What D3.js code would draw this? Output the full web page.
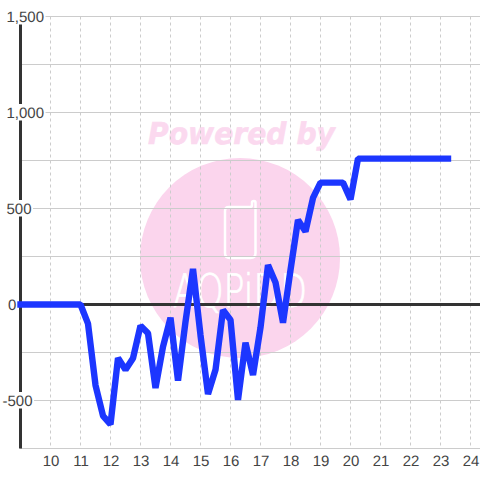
<!DOCTYPE html>
<html><head><meta charset="utf-8">
<script src="https://cdn.jsdelivr.net/npm/d3@7"></script>
<style>html,body{margin:0;padding:0;background:#fff}svg{display:block}text{text-rendering:geometricPrecision}</style>
</head><body><div id="c"></div>
<script>
const hours = d3.range(9, 23.5, 0.25);
const values = [0,0,0,0,0,0,0,0,0,
  -100,-420,-580,-624,-279,-340,-280,-110,
  -150,-435,-220,-69,-396,-90,185,-160,
  -466,-340,-29,-80,-497,-199,-367,-120,
  205,115,-95,180,440,380,555,635,
  635,635,635,547,760,760,760,760,
  760,760,760,760,760,760,760,760,760];
const xTicks = [10,11,12,13,14,15,16,17,18,19,20,21,22,23,24];
const yLabels = [1500,1000,500,0,-500];
const yGrid = [1500,1250,1000,750,500,250,-250,-500,-750];
const watermarkTop = "Powered by";
const watermarkName = "AQPiDD";

const W=480,H=480;
const x=d3.scaleLinear().domain([9,10]).range([20.5,50.5]);
const y=d3.scaleLinear().domain([1500,-750]).range([16.5,448.5]);
const svg=d3.select("#c").append("svg").attr("width",W).attr("height",H);
const font="'Liberation Sans',Arial,sans-serif";

// watermark
const wm=svg.append("g");
wm.append("circle").attr("cx",240).attr("cy",258).attr("r",100).attr("fill","#fbd5ed");
wm.append("text").attr("x",148).attr("y",144).attr("textLength",187).attr("lengthAdjust","spacingAndGlyphs")
  .attr("font-family","'DejaVu Sans'").attr("font-weight","bold").attr("font-style","italic")
  .attr("font-size",30).attr("fill","#fbd9ef").attr("stroke","#fbd9ef").attr("stroke-width",0.6).text(watermarkTop);
wm.append("path").attr("d","M229 207H250Q252 207 252 205V202.500Q252 201 254 201Q255.500 201 255.500 202.500V253Q255.500 258 250.500 258H230Q225 258 225 253V211Q225 207 229 207Z")
  .attr("fill","none").attr("stroke","#fff").attr("stroke-width",2.500);
wm.append("text").attr("x",173).attr("y",307).attr("textLength",134).attr("lengthAdjust","spacingAndGlyphs")
  .attr("font-family","'DejaVu Sans'").attr("font-weight","200").attr("font-size",46).attr("fill","#fff")
  .attr("stroke","#fff").attr("stroke-width",0.8).text(watermarkName);

// grid
svg.append("g").selectAll("line").data(xTicks).join("line")
  .attr("x1",d=>x(d)).attr("x2",d=>x(d)).attr("y1",y(1500)).attr("y2",y(-750))
  .attr("stroke","#ccc").attr("stroke-dasharray","3,3");
svg.append("g").selectAll("line").data(yGrid).join("line")
  .attr("x1",20).attr("x2",W).attr("y1",d=>y(d)).attr("y2",d=>y(d)).attr("stroke","#ccc");

// axes
svg.append("line").attr("x1",20.5).attr("x2",20.5).attr("y1",y(1500)).attr("y2",y(-750))
  .attr("stroke","#333").attr("stroke-width",3);
svg.append("line").attr("x1",20).attr("x2",W).attr("y1",y(0)).attr("y2",y(0))
  .attr("stroke","#333").attr("stroke-width",3);

// y labels with white plate
const fmt=d=>d3.format(",")(d).replace("\u2212","-");
const startX=d=>d===0?8:d<0?2.5:6.5;
const yl=svg.append("g").selectAll("g").data(yLabels).join("g");
yl.append("text").attr("x",startX).attr("y",d=>y(d)+5.5)
  .attr("font-family",font).attr("font-size",15).attr("fill","#444").text(fmt);
yl.each(function(d){
  const t=d3.select(this).select("text"),b=t.node().getBBox();
  d3.select(this).insert("rect","text").attr("x",b.x).attr("y",y(d)-8.5).attr("width",b.width+1.5).attr("height",16.500).attr("fill","#fff");
});

// x labels
svg.append("g").selectAll("text").data(xTicks).join("text")
  .attr("x",d=>x(d)+0.5).attr("y",466).attr("text-anchor","middle")
  .attr("font-family",font).attr("font-size",15).attr("fill","#444").text(d=>d);

// series
const line=d3.line().x((d,i)=>x(hours[i])).y(d=>y(d));
svg.append("path").datum(values).attr("d",line).attr("fill","none")
  .attr("stroke","#1c36ff").attr("stroke-width",6.4).attr("stroke-linecap","square").attr("stroke-linejoin","bevel");
</script></body></html>
